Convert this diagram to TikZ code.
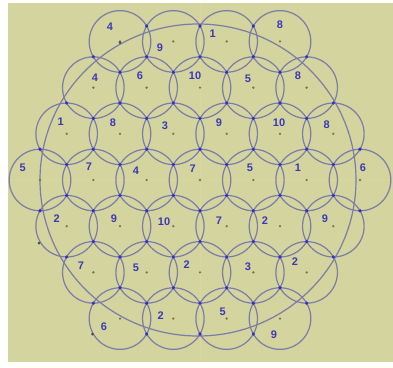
\documentclass[tikz,border=0pt]{standalone}
\usepackage{fontspec}
\setmainfont{Liberation Sans}
\definecolor{bgc}{RGB}{212,212,158}
\definecolor{circc}{RGB}{124,124,170}
\definecolor{vdotc}{RGB}{50,50,190}
\definecolor{cdotc}{RGB}{120,120,78}
\definecolor{labc}{RGB}{58,58,185}
\definecolor{axc}{RGB}{220,214,156}
\tikzset{
  cell/.style={draw=circc, line width=1.2pt},
  bigc/.style={draw=circc, line width=1.2pt},
  vdot/.style={fill=vdotc},
  cdot/.style={fill=cdotc},
  xdot/.style={fill=black!70},
  lab/.style={text=labc, font=\fontsize{11}{12}\selectfont\bfseries, inner sep=0pt},
  axis/.style={draw=axc, line width=0.7pt},
  declare function={isin(\a,\b)=and(abs(\b)<=3, abs(\a)+abs(\b)<=6);}
}
\begin{document}
\begin{tikzpicture}[x=1pt,y=-1pt]
\useasboundingbox (0,0) rectangle (393,367);
\fill[white] (0,0) rectangle (393,367);
\fill[bgc] (8,3) rectangle (393,362);
% faint axes
\draw[axis] (8,180) -- (393,180);
\draw[axis] (200,3) -- (200,362);
% cells
\foreach \k in {-3,...,3}{
  \foreach \m in {-6,...,6}{
    \pgfmathtruncatemacro\ok{isin(\m,\k)*(1-mod(abs(\m+\k),2))}
    \ifnum\ok=1
      \draw[cell] ({200+\m*26.667},{180+\k*46.188}) circle (30.79);
    \fi
  }
}
% big circle
\draw[bigc] (198,180) ellipse (158 and 156);
% center dots
\foreach \k in {-3,...,3}{
  \foreach \m in {-6,...,6}{
    \pgfmathtruncatemacro\ok{isin(\m,\k)*(1-mod(abs(\m+\k),2))}
    \ifnum\ok=1
      \fill[cdot] ({200+\m*26.667},{180+\k*46.188}) circle (1.3);
    \fi
  }
}
% vertex dots
\foreach \k in {-4,...,4}{
  \foreach \m in {-8,...,8}{
    \pgfmathtruncatemacro\pr{1-mod(abs(\m+\k),2)}
    \ifnum\pr=1
      \pgfmathtruncatemacro\ct{isin(\m,\k)+isin(\m-1,\k-1)+isin(\m+1,\k-1)}
      \pgfmathtruncatemacro\cb{isin(\m,\k)+isin(\m-1,\k+1)+isin(\m+1,\k+1)}
      \ifnum\ct>1
        \fill[vdot] ({200+\m*26.667},{180+\k*46.188-30.79}) circle (1.8);
      \fi
      \ifnum\cb>1
        \fill[vdot] ({200+\m*26.667},{180+\k*46.188+30.79}) circle (1.8);
      \fi
    \fi
  }
}
% extra dots
\coordinate (e1) at (39,243);
\coordinate (e2) at (92.5,334);
\fill[xdot] (e1) circle (1.5);
\fill[xdot] (e2) circle (1.5);
\fill[xdot] (120,42.7) circle (1.5);
% labels
\node[lab] (l01) at (110,27) {4};
\node[lab] (l02) at (160,48) {9};
\node[lab] (l03) at (212.7,34) {1};
\node[lab] (l04) at (280,25) {8};
\node[lab] (l11) at (95,78) {4};
\node[lab] (l12) at (140,76) {6};
\node[lab] (l13) at (195,76) {10};
\node[lab] (l14) at (248,79) {5};
\node[lab] (l15) at (298,76) {8};
\node[lab] (l21) at (60.7,122) {1};
\node[lab] (l22) at (113,123) {8};
\node[lab] (l23) at (165,126) {3};
\node[lab] (l24) at (219,123) {9};
\node[lab] (l25) at (279,123) {10};
\node[lab] (l26) at (326.7,125) {8};
\node[lab] (l31) at (22.7,168) {5};
\node[lab] (l32) at (89,167) {7};
\node[lab] (l33) at (136,170.7) {4};
\node[lab] (l34) at (192.7,169) {7};
\node[lab] (l35) at (250,168) {5};
\node[lab] (l36) at (298,168) {1};
\node[lab] (l37) at (363,168) {6};
\node[lab] (l41) at (56.7,219) {2};
\node[lab] (l42) at (114,219) {9};
\node[lab] (l43) at (164,222) {10};
\node[lab] (l44) at (219,220.7) {7};
\node[lab] (l45) at (265,221) {2};
\node[lab] (l46) at (325,219) {9};
\node[lab] (l51) at (81,266) {7};
\node[lab] (l52) at (136,268) {5};
\node[lab] (l53) at (186.7,265) {2};
\node[lab] (l54) at (248,267) {3};
\node[lab] (l55) at (295,262) {2};
\node[lab] (l61) at (104,326.7) {6};
\node[lab] (l62) at (160.7,316) {2};
\node[lab] (l63) at (222.7,312) {5};
\node[lab] (l64) at (274,335) {9};
\end{tikzpicture}
\end{document}
